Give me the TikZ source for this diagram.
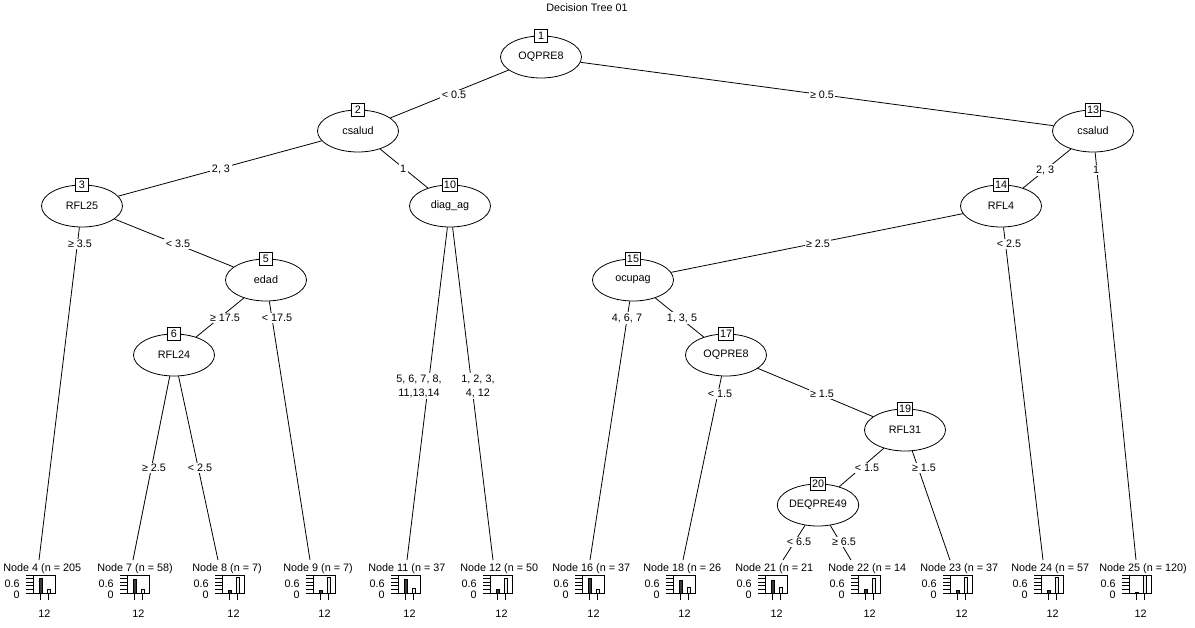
\documentclass[tikz,border=0pt]{standalone}
\usepackage{fontspec}
\setmainfont{Liberation Sans}
\usetikzlibrary{shapes.geometric}
\definecolor{bardark}{HTML}{3A3A3A}
\definecolor{barlight}{HTML}{EFEFEF}

\begin{document}
\begin{tikzpicture}[x=1pt, y=-1pt, line width=0.8pt,
  every node/.style={font=\fontsize{10.8}{14}\selectfont},
  split/.style={ellipse, draw, fill=white, minimum width=81pt, minimum height=42pt, inner sep=0pt},
  numbox/.style={draw, fill=white, inner sep=1.5pt, minimum height=13pt, minimum width=13pt},
  elabel/.style={fill=white, inner sep=1.5pt},
  leaftext/.style={anchor=west, inner sep=0pt},
  ticklabel/.style={anchor=east, inner sep=0pt}]
\useasboundingbox (0,0) rectangle (1195,627);

\node (title) at (587, 8) {Decision Tree 01};

\node[split] (n1) at (541, 57) {OQPRE8};
\node[split] (n2) at (358, 131) {csalud};
\node[split] (n3) at (82, 206) {RFL25};
\node[split] (n5) at (266, 280) {edad};
\node[split] (n6) at (174, 355) {RFL24};
\node[split] (n10) at (450, 206) {diag\_ag};
\node[split] (n13) at (1093, 131) {csalud};
\node[split] (n14) at (1001, 206) {RFL4};
\node[split] (n15) at (633, 280) {ocupag};
\node[split] (n17) at (726, 355) {OQPRE8};
\node[split] (n19) at (905, 430) {RFL31};
\node[split] (n20) at (818, 505) {DEQPRE49};

\node[numbox] (b1) at (n1.north) {1};
\node[numbox] (b2) at (n2.north) {2};
\node[numbox] (b3) at (n3.north) {3};
\node[numbox] (b5) at (n5.north) {5};
\node[numbox] (b6) at (n6.north) {6};
\node[numbox] (b10) at (n10.north) {10};
\node[numbox] (b13) at (n13.north) {13};
\node[numbox] (b14) at (n14.north) {14};
\node[numbox] (b15) at (n15.north) {15};
\node[numbox] (b17) at (n17.north) {17};
\node[numbox] (b19) at (n19.north) {19};
\node[numbox] (b20) at (n20.north) {20};

\foreach \nd/\xl/\xe/\pa/\txt in {
  4/3/39/0.80/{Node 4 (n = 205},
  7/97/133/0.78/{Node 7 (n = 58)},
  8/192/218/0.14/{Node 8 (n = 7)},
  9/283/310/0.14/{Node 9 (n = 7)},
  11/368/407/0.73/{Node 11 (n = 37},
  12/460/493/0.18/{Node 12 (n = 50},
  16/552/590/0.80/{Node 16 (n = 37},
  18/643/683/0.70/{Node 18 (n = 26},
  21/735/783/0.71/{Node 21 (n = 21},
  22/828/851/0.21/{Node 22 (n = 14},
  23/920/950/0.12/{Node 23 (n = 37},
  24/1011/1043/0.12/{Node 24 (n = 57},
  25/1099/1136/0.03/{Node 25 (n = 120)}}{
  \coordinate (l\nd) at (\xe, 560);
  \node[leaftext] (t\nd) at (\xl, 569) {\txt};
  \draw (\xl+30, 575) rectangle (\xl+52, 593);
  \foreach \k in {0,...,5}
    \draw (\xl+23, 575+3.6*\k) -- (\xl+30, 575+3.6*\k);
  \node[ticklabel] (u\nd) at (\xl+17, 584) {0.6};
  \node[ticklabel] (z\nd) at (\xl+17, 595) {0};
  \draw[fill=bardark] (\xl+36, 593) rectangle (\xl+39.5, {593-18*\pa});
  \draw[fill=barlight] (\xl+44, 593) rectangle (\xl+47.5, {593-18*(1-\pa)});
  \draw (\xl+37.75, 593) -- (\xl+37.75, 600);
  \draw (\xl+45.75, 593) -- (\xl+45.75, 600);
  \node (c\nd) at (\xl+41.5, 614) {12};
}

\draw (n1) -- (n2);
\draw (n1) -- (n13);
\draw (n2) -- (n3);
\draw (n2) -- (n10);
\draw (n3) -- (l4);
\draw (n3) -- (n5);
\draw (n5) -- (n6);
\draw (n5) -- (l9);
\draw (n6) -- (l7);
\draw (n6) -- (l8);
\draw (n10) -- (l11);
\draw (n10) -- (l12);
\draw (n13) -- (n14);
\draw (n13) -- (l25);
\draw (n14) -- (n15);
\draw (n14) -- (l24);
\draw (n15) -- (l16);
\draw (n15) -- (n17);
\draw (n17) -- (l18);
\draw (n17) -- (n19);
\draw (n19) -- (n20);
\draw (n19) -- (l23);
\draw (n20) -- (l21);
\draw (n20) -- (l22);

\node[elabel] (e1a) at (454, 95) {< 0.5};
\node[elabel] (e1b) at (822, 95) {≥ 0.5};
\node[elabel] (e2a) at (221, 169) {2, 3};
\node[elabel] (e2b) at (403, 169) {1};
\node[elabel] (e13a) at (1045, 170) {2, 3};
\node[elabel] (e13b) at (1096, 170) {1};
\node[elabel] (e3a) at (80, 244) {≥ 3.5};
\node[elabel] (e3b) at (178, 244) {< 3.5};
\node[elabel] (e14a) at (818, 244) {≥ 2.5};
\node[elabel] (e14b) at (1009, 244) {< 2.5};
\node[elabel, align=center] (e10a) at (419, 386) {5, 6, 7, 8,\\11,13,14};
\node[elabel, align=center] (e10b) at (478, 386) {1, 2, 3,\\4, 12};
\node[elabel] (e5a) at (225, 318) {≥ 17.5};
\node[elabel] (e5b) at (277, 318) {< 17.5};
\node[elabel] (e15a) at (627, 318) {4, 6, 7};
\node[elabel] (e15b) at (682, 318) {1, 3, 5};
\node[elabel] (e6a) at (154, 468) {≥ 2.5};
\node[elabel] (e6b) at (200, 468) {< 2.5};
\node[elabel] (e17a) at (720, 394) {< 1.5};
\node[elabel] (e17b) at (822, 394) {≥ 1.5};
\node[elabel] (e19a) at (867, 468) {< 1.5};
\node[elabel] (e19b) at (924, 468) {≥ 1.5};
\node[elabel] (e20a) at (799, 542) {< 6.5};
\node[elabel] (e20b) at (844, 542) {≥ 6.5};
\end{tikzpicture}
\end{document}
